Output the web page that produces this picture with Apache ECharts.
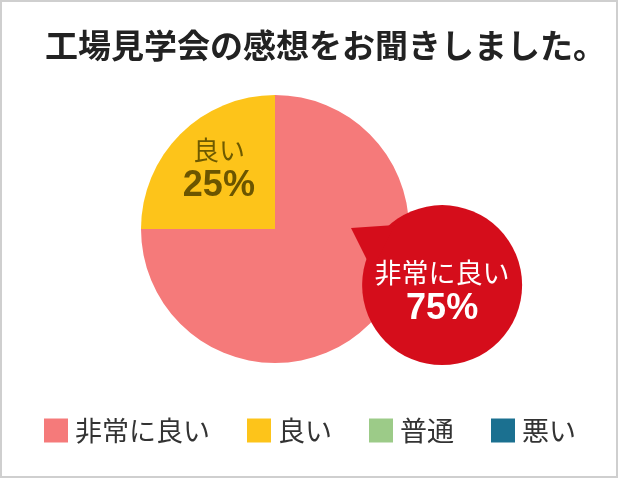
<!DOCTYPE html>
<html>
<head>
<meta charset="utf-8">
<script src="https://cdn.jsdelivr.net/npm/echarts@6/dist/echarts.min.js"></script>
<style>
  html, body { margin: 0; padding: 0; background: #fff; }
  #wrap { position: relative; width: 620px; height: 480px; }
  #chart { width: 620px; height: 480px; }
  #frame { position: absolute; left: 0; top: 0; width: 618px; height: 478px; box-sizing: border-box; border: 2px solid #cfcfcf; pointer-events: none; }
</style>
</head>
<body>
<div id="wrap">
  <div id="chart"></div>
  <div id="frame"></div>
</div>
<script>
// データ
var titleText = '工場見学会の感想をお聞きしました。';
var categories = ['非常に良い', '良い', '普通', '悪い'];
var values = [75, 25, 0, 0];
var colors = ['#f57a7a', '#fdc41a', '#9ccb88', '#1b7090'];

var jpFont = '"Noto Sans CJK JP", sans-serif';
var numFont = '"Liberation Sans", Arial, sans-serif';

// 円グラフの位置
var pieCenter = [275, 229];
var pieRadius = 134;
// 吹き出し（非常に良い）の中心
var bubbleCenter = [440, 283];
var bubbleR = 80;

var chart = echarts.init(document.getElementById('chart'), null, { width: 620, height: 480 });

// 円の内側ラベル位置 (r/2, 中間角)
function insideAnchor(idx) {
    var total = values.reduce(function (a, b) { return a + b; }, 0);
    var before = 0;
    for (var i = 0; i < idx; i++) before += values[i];
    var mid = (before + values[idx] / 2) / total * Math.PI * 2; // 12時から時計回り
    return [pieCenter[0] + pieRadius / 2 * Math.sin(mid), pieCenter[1] - pieRadius / 2 * Math.cos(mid)];
}

var a0 = insideAnchor(0);
var a1 = insideAnchor(1);

var pieData = categories.map(function (name, i) {
    var item = { name: name, value: values[i], itemStyle: { color: colors[i] } };
    if (i === 0) {
        item.label = {
            show: true,
            position: 'inside',
            offset: [bubbleCenter[0] - a0[0], bubbleCenter[1] - a0[1]],
            formatter: '{n|{b}}\n{p|{d}%}',
            backgroundColor: '#d50d1b',
            width: bubbleR * 2,
            padding: [50, 0, 38, 0],
            borderRadius: bubbleR,
            align: 'center',
            rich: {
                n: { fontFamily: jpFont, fontSize: 27, color: '#fff', lineHeight: 36, align: 'center' },
                p: { fontFamily: numFont, fontSize: 36, fontWeight: 'bold', color: '#fff', lineHeight: 36, align: 'center' }
            }
        };
    } else if (i === 1) {
        item.label = {
            show: true,
            position: 'inside',
            offset: [221 - a1[0], 170 - a1[1]],
            formatter: '{n|{b}}\n{p|{d}%}',
            rich: {
                n: { fontFamily: jpFont, fontSize: 26, color: '#6e5a00', lineHeight: 36, align: 'center' },
                p: { fontFamily: numFont, fontSize: 36, fontWeight: 'bold', color: '#6b5500', lineHeight: 36, align: 'center' }
            }
        };
    } else {
        item.label = { show: false };
    }
    return item;
});

// 吹き出しのしっぽ
var tail = [
    [bubbleCenter[0] - 89, bubbleCenter[1] - 55],
    [bubbleCenter[0] - 45, bubbleCenter[1] - 58],
    [bubbleCenter[0] - 68, bubbleCenter[1] - 13]
];

var option = {
    animation: false,
    title: {
        text: titleText,
        left: 40,
        top: 24,
        textStyle: { fontFamily: jpFont, fontSize: 33, fontWeight: 'bold', color: '#222' }
    },
    legend: {
        data: categories,
        left: 'center',
        top: 412,
        icon: 'rect',
        itemWidth: 24,
        itemHeight: 24,
        itemGap: 37,
        selectedMode: false,
        textStyle: { fontFamily: jpFont, fontSize: 27, color: '#333', padding: [0, 0, 0, 2] }
    },
    graphic: [{
        type: 'polygon',
        z: 10,
        shape: { points: tail },
        style: { fill: '#d50d1b' }
    }],
    series: [{
        type: 'pie',
        center: pieCenter,
        radius: pieRadius,
        startAngle: 90,
        clockwise: true,
        z: 2,
        silent: true,
        label: { show: false },
        labelLine: { show: false },
        data: pieData
    }]
};

chart.setOption(option);
</script>
</body>
</html>
